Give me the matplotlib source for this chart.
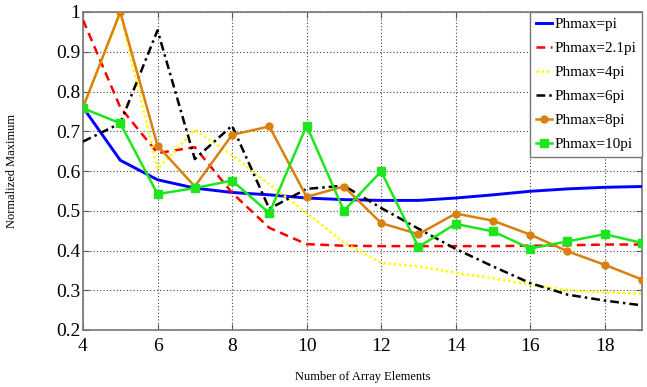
import matplotlib
matplotlib.use("Agg")
import matplotlib.pyplot as plt

n_elements = list(range(4, 20))
ph_pi = [0.76, 0.627, 0.578, 0.557, 0.546, 0.540, 0.532, 0.528, 0.526, 0.526, 0.532, 0.540, 0.549, 0.555, 0.559, 0.561]
ph_2_1pi = [0.98, 0.76, 0.645, 0.66, 0.545, 0.457, 0.416, 0.412, 0.411, 0.411, 0.411, 0.411, 0.412, 0.413, 0.415, 0.415]
ph_4pi = [0.76, 0.995, 0.605, 0.704, 0.64, 0.566, 0.495, 0.42, 0.369, 0.36, 0.344, 0.33, 0.314, 0.30, 0.295, 0.291]
ph_6pi = [0.674, 0.72, 0.954, 0.63, 0.714, 0.505, 0.555, 0.563, 0.507, 0.455, 0.404, 0.36, 0.318, 0.289, 0.274, 0.262]
ph_8pi = [0.76, 1.0, 0.664, 0.561, 0.691, 0.712, 0.535, 0.561, 0.469, 0.441, 0.493, 0.475, 0.44, 0.398, 0.364, 0.327]
ph_10pi = [0.758, 0.72, 0.542, 0.557, 0.576, 0.494, 0.714, 0.50, 0.599, 0.409, 0.467, 0.448, 0.405, 0.423, 0.441, 0.419]

labels = ["Phmax=pi", "Phmax=2.1pi", "Phmax=4pi", "Phmax=6pi", "Phmax=8pi", "Phmax=10pi"]
x_ticks = [4, 6, 8, 10, 12, 14, 16, 18]
y_ticks = [0.2, 0.3, 0.4, 0.5, 0.6, 0.7, 0.8, 0.9, 1.0]
y_ticklabels = ["0.2", "0.3", "0.4", "0.5", "0.6", "0.7", "0.8", "0.9", "1"]

plt.rcParams['font.family'] = ['Liberation Serif', 'DejaVu Serif']

fig = plt.figure(figsize=(6.47, 3.87), dpi=100)
ax = fig.add_axes([83/647, 1-330/387, (642-83)/647, (330-12)/387])

lw = 1.8
ax.plot(n_elements, ph_pi, color='#0000ff', lw=lw + 0.3, label=labels[0], zorder=3)
ax.plot(n_elements, ph_2_1pi, color='#ff0000', lw=lw, ls=(0, (3.5, 2.2)), label=labels[1], zorder=3)
ax.plot(n_elements, ph_4pi, color='#ffff00', lw=lw, ls=(0, (1, 1.1)), label=labels[2], zorder=3)
ax.plot(n_elements, ph_6pi, color='black', lw=lw, ls=(0, (3.5, 1.6, 1, 1.6)), label=labels[3], zorder=3)
ax.plot(n_elements, ph_8pi, color='#d9800f', lw=lw, marker='o', ms=5, label=labels[4], zorder=4)
ax.plot(n_elements, ph_10pi, color='#1fe51f', lw=lw, marker='s', ms=5.5, label=labels[5], zorder=5)

ax.set_xlim(4, 19)
ax.set_ylim(0.2, 1.0)
ax.set_xticks(x_ticks)
ax.set_yticks(y_ticks)
ax.set_yticklabels(y_ticklabels)
ax.tick_params(direction='in', top=True, right=True, labelsize=14, length=4, color='#555555')
ax.tick_params(axis='x', pad=6)
ax.tick_params(axis='y', pad=2)
ax.grid(True, ls=(0, (1, 2)), color='#444444', lw=0.8)
for s in ax.spines.values():
    s.set_color('#777777')
    s.set_linewidth(1.2)

ax.set_xlabel("Number of Array Elements", fontsize=9)
ax.set_ylabel("Normalized Maximum", fontsize=9)
ax.xaxis.set_label_coords(0.5, -0.128)
ax.yaxis.set_label_coords(-0.116, 0.5)

leg = ax.legend(loc='upper right', fontsize=11, fancybox=False, framealpha=1,
                edgecolor='#777777', borderaxespad=0, handlelength=1.1,
                handletextpad=0.15, labelspacing=0.68, borderpad=0.35)
leg.get_frame().set_linewidth(1.0)

fig.savefig("out.png", dpi=100)
